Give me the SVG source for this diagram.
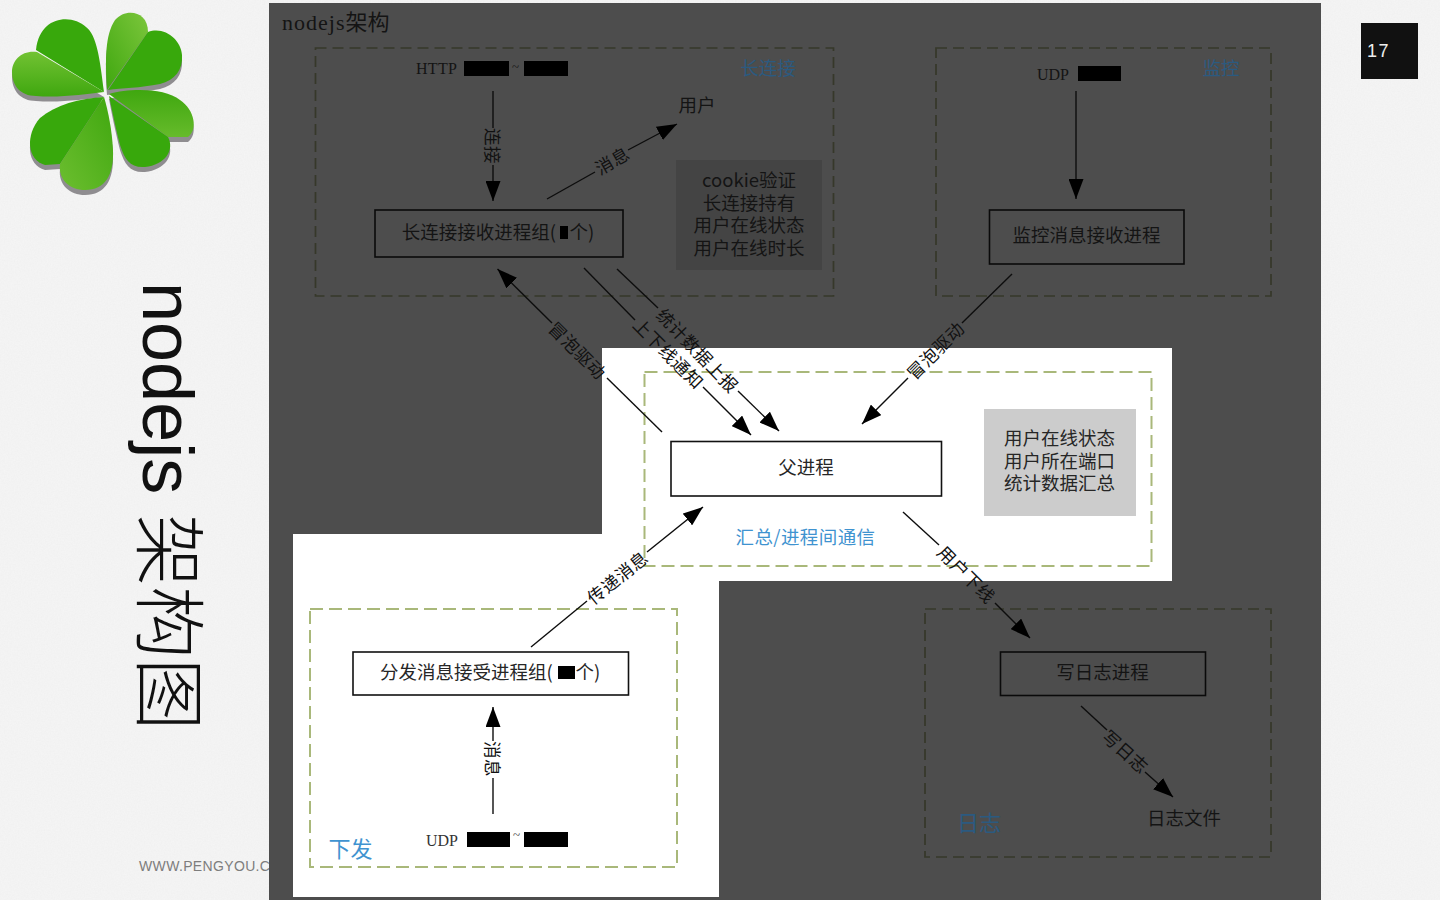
<svg xmlns="http://www.w3.org/2000/svg" width="1440" height="900" viewBox="0 0 1440 900">
<style>
text{font-family:"Liberation Serif","Noto Sans CJK SC",serif;}
.l{font-family:"Noto Sans CJK SC","Liberation Sans",sans-serif;font-size:18.5px;font-weight:400;fill:#141414;text-anchor:middle;dominant-baseline:central;}
.w{fill:#262626;}
.r{font-size:17.5px;letter-spacing:.6px;fill:#111;}
.sb{fill:#3f93d0;}
.db{fill:#2b5a80;}
.lat{font-family:"Liberation Serif",serif;font-size:16px;fill:#141414;dominant-baseline:central;}
.box{fill:none;stroke:#0a0a0a;stroke-width:1.6;}
.wbox{fill:#fff;stroke:#111;stroke-width:1.6;}
.dashD{fill:none;stroke:#36382a;stroke-width:1.7;stroke-dasharray:11 6;}
.dashL{fill:none;stroke:#a9b87a;stroke-width:2;stroke-dasharray:13 6;}
.c{fill:none;stroke:#0d0d0d;stroke-width:1.4;}
.a{marker-end:url(#ah);}
.bar{fill:#000;}
</style>
<defs>
<marker id="ah" markerUnits="userSpaceOnUse" markerWidth="20" markerHeight="15" refX="20" refY="7.500" orient="auto">
<path d="M0,0 L20,7.500 L0,15 Z" fill="#000"/>
</marker>
<linearGradient id="g2" x1="0" y1="0" x2="0" y2="1"><stop offset="0" stop-color="#72c233"/><stop offset="1" stop-color="#3fa70f"/></linearGradient>
<linearGradient id="g3" x1="0" y1="0" x2="0" y2="1"><stop offset="0" stop-color="#3fa70f"/><stop offset="1" stop-color="#66bb2b"/></linearGradient>
<linearGradient id="g4" x1="0" y1="1" x2="1" y2="0"><stop offset="0" stop-color="#6cbe2f"/><stop offset="1" stop-color="#3fa70f"/></linearGradient>
<linearGradient id="g5" x1="1" y1="0" x2="0" y2="1"><stop offset="0" stop-color="#7cc63c"/><stop offset="1" stop-color="#3fa70f"/></linearGradient>
<filter id="paper" x="0" y="0" width="100%" height="100%">
<feTurbulence type="fractalNoise" baseFrequency="0.7" numOctaves="2" seed="4"/>
<feColorMatrix values="0 0 0 0 .72  0 0 0 0 .72  0 0 0 0 .72  .25 0 0 0 -.03"/>
</filter>
<path id="cl" d="M104,92 L37,52 C22,50 12,60 12,72 C12,85 20,96 36,96 C60,98 85,94 104,92 Z M107,90 C105,60 105,35 115,20 C125,8 148,10 148,32 C165,26 181,40 182,55 C183,70 175,80 160,84 C140,88 122,88 107,90 Z M109,94 C130,88 165,88 180,100 C195,110 198,130 188,137 L168,137 C175,150 165,165 145,167 C130,168 125,160 120,145 C115,125 112,110 109,94 Z M104,97 C80,98 55,105 40,118 C25,135 27,160 45,165 L60,164 C58,180 70,190 85,190 C105,190 114,175 113,150 C112,130 108,110 104,97 Z"/>
</defs>

<rect width="1440" height="900" fill="#f5f5f5"/>
<rect width="1440" height="900" filter="url(#paper)"/>

<g id="logo">
<use href="#cl" fill="#8f8d90" transform="translate(0,5)"/>
<path d="M104,92 L37,52 C22,50 12,60 12,72 C12,85 20,96 36,96 C60,98 85,94 104,92 Z" fill="url(#g2)"/>
<path d="M104,92 C100,60 97,35 86,27 C72,14 40,15 36,50 Z" fill="#38a80c"/>
<path d="M107,90 C105,60 105,35 115,20 C125,8 148,10 148,32 Z" fill="url(#g5)"/>
<path d="M108,90 L148,32 C165,26 181,40 182,55 C183,70 175,80 160,84 C140,88 122,88 108,90 Z" fill="#38a80c"/>
<path d="M109,94 C130,88 165,88 180,100 C195,110 198,130 188,137 L168,137 Z" fill="url(#g3)"/>
<path d="M109,96 L168,137 C175,150 165,165 145,167 C130,168 125,160 120,145 C115,125 112,110 109,96 Z" fill="#38a80c"/>
<path d="M104,97 C80,98 55,105 40,118 C25,135 27,160 45,165 L60,164 Z" fill="#38a80c"/>
<path d="M104,97 L60,164 C58,180 70,190 85,190 C105,190 114,175 113,150 C112,130 108,110 104,97 Z" fill="url(#g4)"/>
</g>

<text id="slide-title" transform="translate(143,282) rotate(90)" font-size="72" fill="#111" style="font-family:'Liberation Sans','Noto Sans CJK SC',sans-serif;font-weight:300">nodejs 架构图</text>
<text id="watermark" x="139" y="871" font-size="14" fill="#7d7d7d" letter-spacing=".35" style="font-family:'Liberation Sans',sans-serif">WWW.PENGYOU.C</text>

<g id="page-number">
<rect x="1361" y="23" width="57" height="56" fill="#111"/>
<text x="1367" y="57" font-size="18" fill="#eee" letter-spacing="1.5" style="font-family:'Liberation Sans',sans-serif">17</text>
</g>

<rect id="panel" x="269" y="3" width="1052" height="897" fill="#4d4d4d"/>
<path id="spotlight" d="M602,348 H1172 V581 H719 V897 H293 V534 H602 Z" fill="#fff"/>

<text id="diagram-title" x="282" y="30" font-size="22" fill="#141414" letter-spacing="1">nodejs<tspan style="font-family:'Noto Sans CJK SC',sans-serif" letter-spacing="0">架构</tspan></text>

<g id="group-long-connection">
<rect class="dashD" x="315.500" y="48" width="518" height="248"/>
<text class="l db" x="768" y="67">长连接</text>
</g>
<g id="group-monitor">
<rect class="dashD" x="936" y="48" width="335" height="248"/>
<text class="l db" x="1221" y="67">监控</text>
</g>
<g id="group-summary">
<rect class="dashL" x="644.500" y="372" width="507" height="194"/>
<text class="l sb" x="805.500" y="536" style="letter-spacing:.4px">汇总/进程间通信</text>
</g>
<g id="group-dispatch">
<rect class="dashL" x="310" y="609" width="367" height="258"/>
<text class="l sb" x="350.500" y="847" style="font-size:22px">下发</text>
</g>
<g id="group-log">
<rect class="dashD" x="925" y="609" width="346" height="248"/>
<text class="l db" x="979" y="821" style="font-size:22px">日志</text>
</g>

<g id="connectors">
<path class="c" d="M493,91 V128"/><path class="c a" d="M493,165 V201"/>
<path class="c" d="M547,199 L595,172"/><path class="c a" d="M628,150 L677,124"/>
<path class="c a" d="M552,323 L497.500,269"/><path class="c" d="M607,378 L662,432"/>
<path class="c" d="M584,268 L635,320"/><path class="c a" d="M703,387 L751,435"/>
<path class="c" d="M617,269 L658,308"/><path class="c a" d="M738,391 L779,431"/>
<path class="c" d="M1012,274 L962,323"/><path class="c a" d="M908,378 L862,424"/>
<path class="c" d="M531,647 L587,601"/><path class="c a" d="M647,552 L703,507"/>
<path class="c" d="M493,814 V778"/><path class="c a" d="M493,741 V707"/>
<path class="c" d="M903,512 L939,545"/><path class="c a" d="M995,603 L1030,638"/>
<path class="c" d="M1081,706 L1107,730"/><path class="c a" d="M1145,772 L1173,797"/>
<path class="c a" d="M1076,91 V199"/>
<text class="l r" transform="translate(493,146) rotate(90)">连接</text>
<text class="l r" transform="translate(612,160) rotate(-30)">消息</text>
<text class="l r" transform="translate(578,350) rotate(45)">冒泡驱动</text>
<text class="l r" transform="translate(669,353) rotate(45)">上下线通知</text>
<text class="l r" transform="translate(698,350) rotate(46)">统计数据上报</text>
<text class="l r" transform="translate(935,350) rotate(-45)">冒泡驱动</text>
<text class="l r" transform="translate(617,577) rotate(-39)">传递消息</text>
<text class="l r" transform="translate(493,759) rotate(90)">消息</text>
<text class="l r" transform="translate(967,574) rotate(45)">用户下线</text>
<text class="l r" transform="translate(1126,751) rotate(42)">写日志</text>
</g>

<g id="node-http-source">
<text class="lat" x="416" y="68" style="letter-spacing:.3px">HTTP</text>
<rect class="bar" x="464" y="61" width="45" height="15"/>
<text class="lat" x="512" y="66" style="font-size:13px">~</text>
<rect class="bar" x="524" y="61" width="44" height="15"/>
</g>
<g id="node-user"><text class="l" x="697" y="104">用户</text></g>
<g id="node-long-receiver">
<rect class="box" x="375" y="210" width="248" height="47"/>
<text class="l" x="479" y="231">长连接接收进程组(</text>
<rect class="bar" x="560" y="226" width="8" height="13"/>
<text class="l" x="582" y="231">个)</text>
</g>
<g id="node-long-notes">
<rect x="676" y="160" width="146" height="110" fill="#444"/>
<text class="l" y="179"><tspan x="749">cookie验证</tspan><tspan x="749" dy="22.700">长连接持有</tspan><tspan x="749" dy="22.700">用户在线状态</tspan><tspan x="749" dy="22.700">用户在线时长</tspan></text>
</g>
<g id="node-udp-monitor">
<text class="lat" x="1037" y="74">UDP</text>
<rect class="bar" x="1078" y="66" width="43" height="15"/>
</g>
<g id="node-monitor-receiver">
<rect class="box" x="989.500" y="210" width="194.500" height="54"/>
<text class="l" x="1086.500" y="234">监控消息接收进程</text>
</g>
<g id="node-parent">
<rect class="wbox" x="671" y="441.500" width="270.500" height="54.500"/>
<text class="l w" x="806" y="466">父进程</text>
</g>
<g id="node-parent-notes">
<rect x="984" y="409" width="152" height="107" fill="#ccc"/>
<text class="l w" y="437"><tspan x="1059.500">用户在线状态</tspan><tspan x="1059.500" dy="22.700">用户所在端口</tspan><tspan x="1059.500" dy="22.700">统计数据汇总</tspan></text>
</g>
<g id="node-dispatch-receiver">
<rect class="wbox" x="353" y="652" width="275.500" height="43"/>
<text class="l w" x="466.500" y="671">分发消息接受进程组(</text>
<rect class="bar" x="558" y="666" width="17" height="13"/>
<text class="l w" x="588" y="671">个)</text>
</g>
<g id="node-udp-dispatch">
<text class="lat" x="426" y="840" style="fill:#333">UDP</text>
<rect class="bar" x="467" y="832" width="43" height="15"/>
<text class="lat" x="513" y="834" style="font-size:13px;fill:#333">~</text>
<rect class="bar" x="524" y="832" width="44" height="15"/>
</g>
<g id="node-log-writer">
<rect class="box" x="1000.500" y="652" width="205" height="43.500"/>
<text class="l" x="1102.500" y="671">写日志进程</text>
</g>
<g id="node-log-file"><text class="l" x="1184" y="817">日志文件</text></g>
</svg>
